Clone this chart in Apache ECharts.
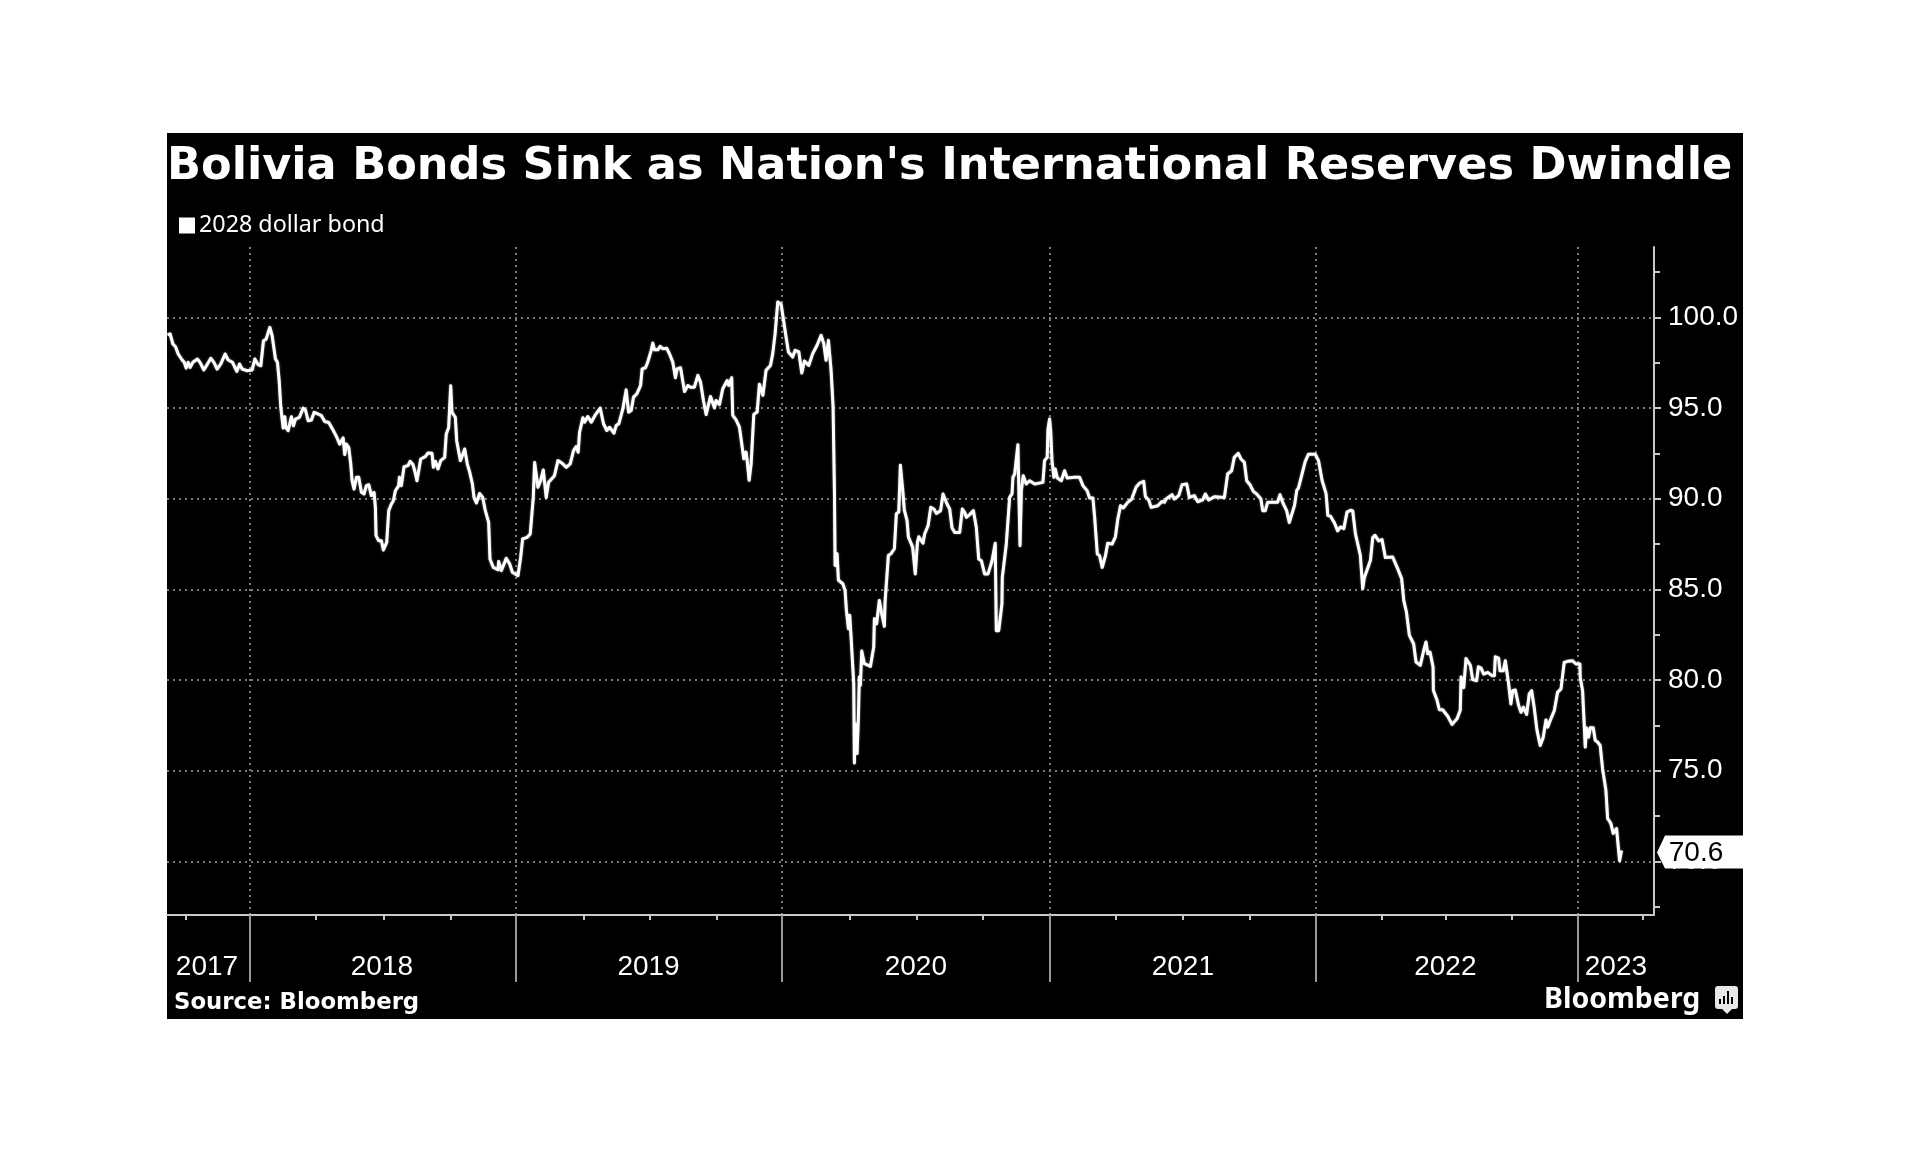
<!DOCTYPE html>
<html><head><meta charset="utf-8">
<style>html,body{margin:0;padding:0;background:#fff}#chart{width:1920px;height:1152px}</style>
<script src="https://cdn.jsdelivr.net/npm/echarts@6/dist/echarts.min.js"></script>
</head><body><div id="chart"></div>
<script>
const chartTitle = "Bolivia Bonds Sink as Nation's International Reserves Dwindle";
const seriesName = "2028 dollar bond";
const sourceText = "Source: Bloomberg";
const brandText = "Bloomberg";

// [year position, bond price]
const bond2017to2018 = [
[2017.690,99.04],[2017.700,99.08],[2017.710,98.53],[2017.720,98.38],[2017.730,97.98],[2017.7375,98.07],[2017.745,97.65],[2017.7525,97.52],[2017.760,97.2],[2017.7675,97.52],[2017.775,97.24],[2017.785,97.52],[2017.8025,97.7],[2017.8125,97.5],[2017.826,97.1],[2017.836,97.33],[2017.8525,97.74],[2017.864,97.52],[2017.876,97.15],[2017.890,97.43],[2017.906,97.98],[2017.9175,97.65],[2017.934,97.52],[2017.950,97.02],[2017.960,97.43],[2017.970,97.15],[2017.9875,97.06],
[2018.0075,97.1],[2018.0175,97.7],[2018.030,97.39],[2018.040,97.33],[2018.050,98.71],[2018.060,98.8],[2018.074,99.45],[2018.0825,98.99],[2018.095,97.7],[2018.1025,97.52],[2018.109,96.5],[2018.115,95.04],[2018.120,94.95],[2018.124,93.9],[2018.130,94.52],[2018.134,93.93],[2018.1425,93.75],[2018.155,94.52],[2018.1625,94.02],[2018.170,94.39],[2018.185,94.49],[2018.199,95.0],[2018.2075,94.89],[2018.2175,94.3],[2018.230,94.34],[2018.240,94.76],[2018.255,94.67],[2018.2675,94.58],[2018.280,94.26],[2018.295,94.2],[2018.311,93.79],[2018.324,93.42],[2018.336,93.01],[2018.349,93.35],[2018.355,92.43],[2018.361,93.01],[2018.370,92.83],[2018.3775,91.91],[2018.3825,91.0],[2018.390,90.53],[2018.399,91.18],[2018.4075,91.18],[2018.4175,90.35],[2018.4275,90.26],
[2018.436,90.72],[2018.445,90.77],[2018.455,90.17],[2018.465,90.35],[2018.470,89.52],[2018.4725,87.96],[2018.4825,87.68],[2018.4925,87.68],[2018.500,87.17],[2018.5125,87.59],[2018.520,89.34],[2018.530,89.71],[2018.5375,89.89],[2018.545,90.44],[2018.5575,90.72],[2018.560,91.18],[2018.5675,90.72],[2018.5775,91.76],[2018.5925,91.82],[2018.600,92.06],[2018.611,91.88],[2018.6175,91.54],[2018.626,90.99],[2018.640,92.19],[2018.6575,92.32],[2018.6675,92.52],[2018.6825,92.5],[2018.6875,91.73],[2018.695,92.06],[2018.705,91.64],[2018.715,92.1],[2018.730,92.28],[2018.736,93.57],[2018.745,93.93],[2018.7525,96.23],[2018.7575,94.76],[2018.770,94.49],[2018.775,93.2],[2018.789,92.1],[2018.796,92.37],[2018.805,92.74],[2018.815,91.91],[2018.824,91.45],[2018.834,90.81],[2018.840,90.07],[2018.849,89.76],[2018.861,90.29],[2018.8725,90.07],[2018.8825,89.34],[2018.895,88.69],[2018.900,86.67],[2018.9125,86.21],[2018.930,86.08],[2018.9325,86.54],[2018.9425,86.03],[2018.961,86.71],[2018.974,86.4],[2018.984,85.94]
];
const bond2019 = [
[2019.005,85.75],[2019.015,86.76],[2019.0225,87.78],[2019.040,87.87],[2019.051,88.05],[2019.0625,90.07],[2019.0675,92.0],[2019.0725,91.91],[2019.080,90.63],[2019.090,90.99],[2019.100,91.58],[2019.111,90.07],[2019.120,90.9],[2019.1235,90.99],[2019.142,91.27],[2019.155,92.1],[2019.171,91.95],[2019.186,91.73],[2019.201,91.92],[2019.2135,92.65],[2019.2235,92.87],[2019.231,92.56],[2019.236,93.66],[2019.2485,94.46],[2019.255,94.22],[2019.267,94.53],[2019.280,94.22],[2019.296,94.64],[2019.3135,95.0],[2019.326,94.13],[2019.3385,93.76],[2019.3485,93.94],[2019.365,93.61],[2019.3735,94.03],[2019.3835,94.13],[2019.3985,94.95],[2019.411,96.0],[2019.420,94.77],[2019.430,94.86],[2019.4385,95.6],[2019.451,95.78],[2019.465,96.24],[2019.471,97.16],[2019.4835,97.22],[2019.492,97.53],[2019.505,98.18],[2019.511,98.58],[2019.5175,98.21],[2019.530,98.21],[2019.5385,98.4],[2019.5485,98.27],[2019.5635,98.29],[2019.5735,97.99],[2019.586,97.53],[2019.596,96.67],[2019.602,97.16],[2019.615,97.22],[2019.630,95.91],[2019.6425,96.24],[2019.6525,96.15],[2019.667,96.15],[2019.680,96.8],[2019.690,96.43],[2019.701,95.41],[2019.711,94.64],[2019.7275,95.64],[2019.7425,95.0],[2019.7485,95.41],[2019.761,95.19],[2019.7735,96.06],[2019.790,96.52],[2019.796,96.24],[2019.807,96.67],[2019.811,94.59],[2019.8235,94.35],[2019.836,93.95],[2019.8425,93.86],[2019.8525,92.2],[2019.861,92.57],[2019.865,92.11],[2019.8725,91.01],[2019.880,91.93],[2019.890,94.65],[2019.9025,94.78],[2019.911,96.31],[2019.924,95.7],[2019.936,97.08],[2019.9525,97.35],[2019.961,98.0],[2019.970,99.1],[2019.980,100.85],[2019.9925,100.72]
];
const bond2020 = [
[2020.0,100.66],[2020.011,98.92],[2020.020,98.09],[2020.036,97.81],[2020.045,98.18],[2020.059,98.09],[2020.070,96.93],[2020.080,97.59],[2020.096,97.35],[2020.111,98.0],[2020.1275,98.46],[2020.1425,99.01],[2020.1525,98.55],[2020.161,97.63],[2020.170,98.73],[2020.180,97.08],[2020.1875,95.06],[2020.1925,90.46],[2020.195,86.32],[2020.2025,86.97],[2020.2075,85.5],[2020.224,85.31],[2020.2325,84.94],[2020.2375,83.84],[2020.245,82.83],[2020.250,83.57],[2020.255,82.37],[2020.265,79.8],[2020.2675,75.42],[2020.270,77.59],[2020.2775,75.94],[2020.2825,77.96],[2020.286,80.17],[2020.290,79.71],[2020.295,81.6],[2020.305,80.9],[2020.3275,80.75],[2020.340,81.82],[2020.3425,83.38],[2020.351,83.1],[2020.361,84.39],[2020.370,83.66],[2020.380,82.96],[2020.3825,84.3],[2020.395,86.87],[2020.405,86.97],[2020.4175,87.24],[2020.425,89.17],[2020.434,89.26],[2020.440,91.84],[2020.449,90.46],[2020.455,89.36],[2020.465,88.8],[2020.470,87.89],[2020.486,87.33],
[2020.496,85.85],[2020.504,87.59],[2020.509,87.9],[2020.525,87.54],[2020.531,88.05],[2020.544,88.51],[2020.554,89.52],[2020.566,89.43],[2020.575,89.19],[2020.591,89.34],[2020.600,90.26],[2020.615,89.71],[2020.625,89.43],[2020.634,88.38],[2020.644,88.14],[2020.6625,88.14],[2020.6725,89.43],[2020.681,89.25],[2020.6875,88.97],[2020.700,89.12],[2020.714,89.34],[2020.725,88.42],[2020.734,86.67],[2020.744,86.58],[2020.756,85.85],[2020.769,85.85],[2020.784,86.58],[2020.796,87.54],[2020.800,82.72],[2020.809,82.72],[2020.821,84.19],[2020.8225,85.66],[2020.8375,87.5],[2020.850,90.07],[2020.859,90.26],[2020.8625,91.18],[2020.869,91.36],[2020.881,92.98],[2020.889,87.41],[2020.894,90.44],[2020.901,91.27],[2020.9125,90.81],[2020.925,90.99],[2020.944,90.81],[2020.975,90.9],[2020.981,92.1],[2020.991,92.28],[2020.994,93.84]
];
const bond2021 = [
[2021.0,94.39],[2021.004,93.75],[2021.009,92.1],[2021.016,91.18],[2021.021,91.64],[2021.029,91.14],[2021.044,90.99],[2021.056,91.54],[2021.066,91.14],[2021.094,91.18],[2021.1125,91.18],[2021.125,90.72],[2021.141,90.44],[2021.150,90.04],[2021.1625,90.04],[2021.169,88.97],[2021.179,86.95],[2021.1875,86.86],[2021.1975,86.21],[2021.2095,86.86],[2021.218,87.54],[2021.2345,87.5],[2021.247,87.9],[2021.256,88.88],[2021.266,89.61],[2021.277,89.49],[2021.293,89.8],[2021.308,89.98],[2021.3245,90.63],[2021.337,90.85],[2021.353,90.96],[2021.3595,90.11],[2021.372,89.93],[2021.381,89.52],[2021.406,89.61],[2021.421,89.85],[2021.431,89.8],[2021.437,89.98],[2021.4595,90.22],[2021.468,89.98],[2021.4845,90.17],[2021.497,90.77],[2021.5145,90.81],[2021.5245,90.07],[2021.543,90.17],[2021.556,89.83],[2021.5745,89.93],[2021.5845,90.26],[2021.597,89.93],[2021.618,90.11],[2021.656,90.07],[2021.668,91.36],[2021.683,91.54],[2021.693,92.28],[2021.708,92.5],[2021.718,92.19],[2021.731,92.0],[2021.7395,90.99],[2021.752,90.77],[2021.7645,90.4],[2021.777,90.26],[2021.793,89.98],[2021.7995,89.34],[2021.8095,89.34],[2021.818,89.8],[2021.8555,89.8],[2021.8645,90.22],[2021.877,89.71],[2021.8895,89.34],[2021.8995,88.69],[2021.906,88.62],[2021.919,89.63],[2021.9275,90.46],[2021.934,90.6],[2021.959,92.04],[2021.971,92.45],[2021.997,92.45]
];
const bond2022to2023 = [
[2022.009,92.1],[2022.0225,91.0],[2022.0375,90.28],[2022.044,89.08],[2022.054,89.03],[2022.069,88.66],[2022.081,88.22],[2022.091,88.44],[2022.104,88.35],[2022.116,89.26],[2022.129,89.36],[2022.1375,89.32],[2022.1475,88.07],[2022.156,87.52],[2022.166,86.88],[2022.175,85.04],[2022.181,85.64],[2022.204,86.6],[2022.2125,87.85],[2022.221,87.98],[2022.235,87.67],[2022.2475,87.74],[2022.260,86.75],[2022.2875,86.78],[2022.306,86.14],[2022.321,85.59],[2022.329,84.39],[2022.339,83.75],[2022.350,82.46],[2022.366,82.0],[2022.375,80.99],[2022.391,80.81],[2022.404,81.64],[2022.4125,82.1],[2022.419,81.45],[2022.4275,81.54],[2022.439,80.72],[2022.440,79.43],[2022.454,78.88],[2022.4625,78.36],[2022.475,78.36],[2022.494,78.0],[2022.510,77.55],[2022.529,77.87],[2022.541,78.33],[2022.544,80.17],[2022.554,79.58],[2022.5625,81.18],[2022.569,81.27],[2022.579,80.81],[2022.5875,80.02],
[2022.6025,79.96],[2022.609,80.73],[2022.619,80.66],[2022.629,80.33],[2022.644,80.42],[2022.660,80.24],[2022.669,80.24],[2022.6725,81.28],[2022.685,81.21],[2022.690,80.51],[2022.7025,80.51],[2022.710,81.06],[2022.7225,79.78],[2022.731,78.68],[2022.7375,79.41],[2022.7475,79.45],[2022.760,78.59],[2022.769,78.22],[2022.7775,78.5],[2022.790,78.1],[2022.800,79.23],[2022.809,79.41],[2022.819,78.41],[2022.829,77.22],[2022.841,76.39],[2022.8525,76.85],[2022.8625,77.8],[2022.869,77.4],[2022.881,77.86],[2022.894,78.32],[2022.906,79.32],[2022.919,79.51],[2022.931,80.97],[2022.944,81.03],[2022.9625,81.06],[2022.975,80.88],[2022.990,80.88],[2022.991,80.15],
[2023.000,79.41],[2023.006,77.58],[2023.010,76.3],[2023.015,77.36],[2023.0225,76.85],[2023.029,77.36],[2023.040,77.36],[2023.0475,76.67],[2023.056,76.58],[2023.066,76.39],[2023.075,75.11],[2023.0875,73.92],[2023.094,72.36],[2023.106,72.09],[2023.115,71.54],[2023.1275,71.81],[2023.135,70.62],[2023.139,70.03],[2023.146,70.6]
];
const bondSeries = [].concat(bond2017to2018, bond2019, bond2020, bond2021, bond2022to2023);

const xMin = 2017.688, xMax = 2023.268, yMin = 67.04, yMax = 103.88;
const yearLabels = ['2017','2018','2019','2020','2021','2022','2023'];
const yearLabelPositions = [2017.838,2018.4945,2019.495,2020.498,2021.5,2022.485,2023.125];
const yearLinePositions = [2018,2018.996,2019.996,2021.002,2021.999,2022.981];
const quarterTicks = [2017.758,2018.245,2018.5,2018.752,2019.25,2019.5,2019.75,2020.25,2020.5,2020.75,2021.25,2021.5,2021.75,2022.248,2022.485,2022.735,2023.227];
const majorPrices = [70,75,80,85,90,95,100];
const minorPrices = [67.5,72.5,77.5,82.5,87.5,92.5,97.5,102.5];

const lastPoint = bondSeries[bondSeries.length-1];
const sans = '"Liberation Sans"';
const axisGrey = '#c8c8c8';
const dotted = {show:true,lineStyle:{color:'#7c7c7c',width:2,type:[2,4]}};

const option = {
  animation:false,
  backgroundColor:'#ffffff',
  textStyle:{fontFamily:sans},
  graphic:[
    {type:'rect',silent:true,z:-10,shape:{x:167,y:133,width:1576,height:886},style:{fill:'#000'}},
    {type:'group',silent:true,z:20,children:[
      {type:'rect',shape:{x:1715,y:986,width:23,height:23,r:3},style:{fill:'#e8e8e8'}},
      {type:'polygon',shape:{points:[[1722,1009],[1732,1009],[1727,1014]]},style:{fill:'#e8e8e8'}},
      {type:'rect',shape:{x:1719,y:999,width:2,height:5},style:{fill:'#000'}},
      {type:'rect',shape:{x:1723,y:996,width:2,height:8},style:{fill:'#000'}},
      {type:'rect',shape:{x:1727,y:991,width:2,height:13},style:{fill:'#000'}},
      {type:'rect',shape:{x:1731,y:997,width:2,height:7},style:{fill:'#000'}}
    ]}
  ],
  title:[
    {text:chartTitle,left:167,top:145,padding:0,textStyle:{color:'#fff',fontFamily:'"DejaVu Sans"',fontWeight:'bold',fontSize:44.6}},
    {text:sourceText,left:174,top:992,padding:0,textStyle:{color:'#fff',fontFamily:'"DejaVu Sans"',fontWeight:'bold',fontSize:22.8}},
    {text:brandText,left:1544,top:985,padding:0,textStyle:{color:'#fff',fontFamily:'"Noto Sans"',fontWeight:'bold',fontSize:28.5}}
  ],
  legend:{
    show:true,left:179,top:214,padding:0,itemWidth:16,itemHeight:16,itemGap:0,icon:'rect',data:[seriesName],
    textStyle:{color:'#fff',fontFamily:'"Noto Sans"',fontSize:23.3,padding:[0,0,0,-1]}
  },
  grid:{left:167,right:266,top:247,bottom:237,containLabel:false},
  xAxis:[
    {type:'value',position:'bottom',min:xMin,max:xMax,
      axisLine:{show:true,onZero:false,lineStyle:{color:axisGrey,width:2}},
      axisTick:{show:true,length:5,customValues:quarterTicks,lineStyle:{color:axisGrey,width:2}},
      axisLabel:{show:true,customValues:yearLabelPositions,margin:38,color:'#fff',fontFamily:sans,fontSize:28,hideOverlap:false,showMinLabel:true,showMaxLabel:true,
        formatter:(v)=>yearLabels[yearLabelPositions.indexOf(v)]},
      splitLine:{show:false}},
    {type:'value',position:'bottom',min:xMin,max:xMax,
      axisLine:{show:false,onZero:false},
      axisTick:{show:true,length:67,customValues:yearLinePositions,lineStyle:{color:'#9a9a9a',width:2}},
      axisLabel:{show:false},
      splitLine:dotted}
  ],
  yAxis:[
    {type:'value',position:'right',min:yMin,max:yMax,
      axisLine:{show:true,onZero:false,lineStyle:{color:axisGrey,width:2}},
      axisTick:{show:true,length:6,customValues:minorPrices,lineStyle:{color:axisGrey,width:2}},
      axisLabel:{show:false},splitLine:{show:false}},
    {type:'value',position:'right',min:yMin,max:yMax,
      axisLine:{show:false,onZero:false},
      axisTick:{show:true,length:7,customValues:majorPrices,lineStyle:{color:axisGrey,width:2}},
      axisLabel:{show:true,customValues:majorPrices,margin:14,padding:[2,0,0,0],color:'#fff',fontFamily:sans,fontSize:28,hideOverlap:false,formatter:(v)=>v.toFixed(1)},
      splitLine:dotted}
  ],
  series:[
    {name:seriesName,type:'line',xAxisIndex:0,yAxisIndex:0,data:bondSeries,showSymbol:false,symbol:'none',smooth:false,sampling:false,clip:false,z:5,
      lineStyle:{color:'#fff',width:3,join:'round',shadowColor:'rgba(255,255,255,0.6)',shadowBlur:2},itemStyle:{color:'#fff'},emphasis:{disabled:true}},
    {name:'last value',type:'custom',xAxisIndex:0,yAxisIndex:0,data:[[xMax,lastPoint[1]]],clip:false,z:30,silent:true,
      renderItem:(params,api)=>{
        const p = api.coord([api.value(0),api.value(1)]);
        const xp=p[0], yp=p[1];
        return {type:'group',children:[
          {type:'polygon',shape:{points:[[xp+3,yp+2],[xp+11,yp-15],[xp+89,yp-15],[xp+89,yp+18],[xp+11,yp+18]]},style:{fill:'#fff'}},
          {type:'text',style:{x:xp+42,y:yp+3,text:api.value(1).toFixed(1),fill:'#000',font:'28px '+sans,align:'center',verticalAlign:'middle'}}
        ]};
      },
      encode:{x:0,y:1}}
  ]
};
const chart = echarts.init(document.getElementById('chart'),null,{renderer:'canvas',width:1920,height:1152});
chart.setOption(option);
</script></body></html>
